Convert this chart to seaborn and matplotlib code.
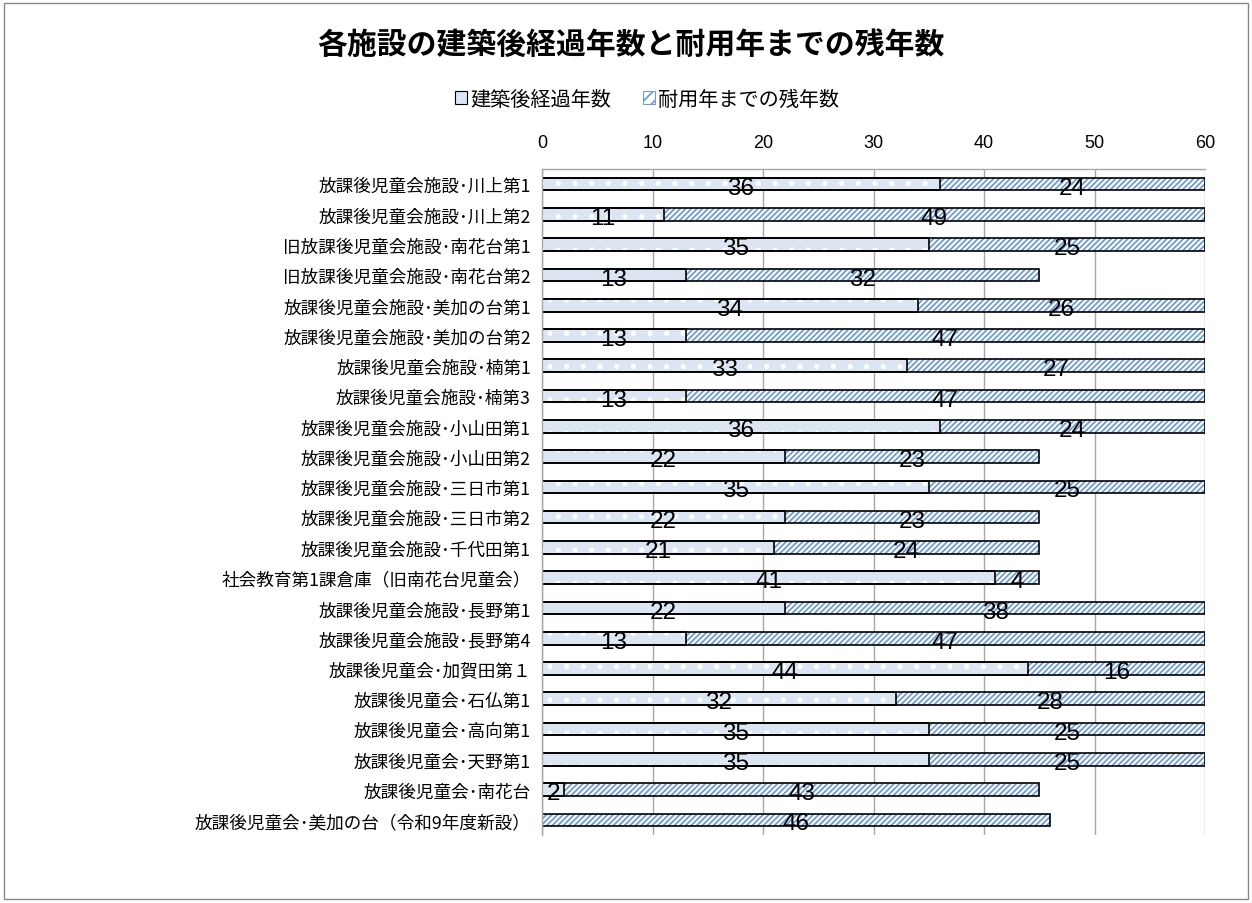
import matplotlib
matplotlib.use("Agg")
import matplotlib.pyplot as plt
import seaborn as sns
import pandas as pd
from matplotlib.patches import Rectangle, Patch

categories = [
    "放課後児童会施設･川上第1",
    "放課後児童会施設･川上第2",
    "旧放課後児童会施設･南花台第1",
    "旧放課後児童会施設･南花台第2",
    "放課後児童会施設･美加の台第1",
    "放課後児童会施設･美加の台第2",
    "放課後児童会施設･楠第1",
    "放課後児童会施設･楠第3",
    "放課後児童会施設･小山田第1",
    "放課後児童会施設･小山田第2",
    "放課後児童会施設･三日市第1",
    "放課後児童会施設･三日市第2",
    "放課後児童会施設･千代田第1",
    "社会教育第1課倉庫（旧南花台児童会）",
    "放課後児童会施設･長野第1",
    "放課後児童会施設･長野第4",
    "放課後児童会･加賀田第１",
    "放課後児童会･石仏第1",
    "放課後児童会･高向第1",
    "放課後児童会･天野第1",
    "放課後児童会･南花台",
    "放課後児童会･美加の台（令和9年度新設）",
]
elapsed = [36, 11, 35, 13, 34, 13, 33, 13, 36, 22, 35, 22, 21, 41, 22, 13, 44, 32, 35, 35, 2, 0]
remaining = [24, 49, 25, 32, 26, 47, 27, 47, 24, 23, 25, 23, 24, 4, 38, 47, 16, 28, 25, 25, 43, 46]
series_names = ["建築後経過年数", "耐用年までの残年数"]
x_ticks = [0, 10, 20, 30, 40, 50, 60]
title = "各施設の建築後経過年数と耐用年までの残年数"

sns.set_theme(style="white")
plt.rcParams["font.family"] = ["Noto Sans CJK JP", "DejaVu Sans"]
plt.rcParams["hatch.linewidth"] = 1.3
for k in ["text.color", "axes.labelcolor", "xtick.color", "ytick.color"]:
    plt.rcParams[k] = "black"

df = pd.DataFrame({"category": categories, "elapsed": elapsed, "remaining": remaining})
df["total"] = df["elapsed"] + df["remaining"]

fig = plt.figure(figsize=(12.52, 9.04), dpi=100)
ax = fig.add_axes([542 / 1252, 1 - 836 / 904, (1205 - 542) / 1252, (836 - 170) / 904])

c1 = "#dce6f2"
hatch_col = "#6f9bd3"
bw = 0.42

# hatched total bars (remaining shows beyond elapsed)
sns.barplot(data=df, x="total", y="category", order=categories, ax=ax, orient="h",
            color="#ffffff", width=bw, edgecolor=hatch_col, linewidth=0, hatch="//////",
            saturation=1, errorbar=None)
# elapsed bars
sns.barplot(data=df, x="elapsed", y="category", order=categories, ax=ax, orient="h",
            color=c1, width=bw, edgecolor="white", linewidth=0, hatch=".",
            saturation=1, errorbar=None)
# outlines
sns.barplot(data=df, x="total", y="category", order=categories, ax=ax, orient="h",
            fill=False, width=bw, edgecolor="black", linewidth=1.2, errorbar=None)
sns.barplot(data=df, x="elapsed", y="category", order=categories, ax=ax, orient="h",
            fill=False, width=bw, edgecolor="black", linewidth=1.2, errorbar=None)

# value labels
lab_font = ["Liberation Sans Narrow", "Liberation Sans", "DejaVu Sans"]
for i, (e, r) in enumerate(zip(elapsed, remaining)):
    if e > 0:
        ax.text(e / 2, i + 0.12, str(e), ha="center", va="center", fontsize=17.5,
                family=lab_font, color="black")
    if r > 0:
        ax.text(e + r / 2, i + 0.12, str(r), ha="center", va="center", fontsize=17.5,
                family=lab_font, color="black")

ax.set_xlim(0, 60)
ax.set_ylim(len(categories) - 0.5, -0.5)
ax.set_xticks(x_ticks)
ax.xaxis.tick_top()
ax.set_xticklabels([str(t) for t in x_ticks], fontsize=13, family=["Liberation Sans", "DejaVu Sans"])
ax.tick_params(axis="x", length=0, pad=13)
ax.tick_params(axis="y", length=0, pad=8, labelsize=12.7)
ax.set_xlabel("")
ax.set_ylabel("")
ax.grid(axis="x", color="#a6a6a6", linewidth=1.0)
ax.set_axisbelow(True)
for s in ["right", "bottom"]:
    ax.spines[s].set_visible(False)
for s in ["left", "top"]:
    ax.spines[s].set_color("#a6a6a6")
    ax.spines[s].set_linewidth(1.0)

fig.text(631 / 1252, 1 - 45 / 904, title, ha="center", va="center", fontsize=21.5, fontweight="bold")

handles = [Patch(facecolor=c1, edgecolor="black", linewidth=0.8),
           Patch(facecolor="white", edgecolor=hatch_col, hatch="///", linewidth=0.8)]
fig.legend(handles, series_names, loc="center", bbox_to_anchor=(647 / 1252, 1 - 100 / 904),
           ncol=2, frameon=False, fontsize=14.5, handlelength=0.6, handleheight=0.6,
           handletextpad=0.15, columnspacing=1.6)

fig.patches.append(Rectangle((4 / 1252, 4 / 904), 1 - 8 / 1252, 1 - 8 / 904,
                             transform=fig.transFigure, fill=False, edgecolor="#888888",
                             linewidth=1.0, zorder=0))

fig.savefig("out.png", dpi=100)
